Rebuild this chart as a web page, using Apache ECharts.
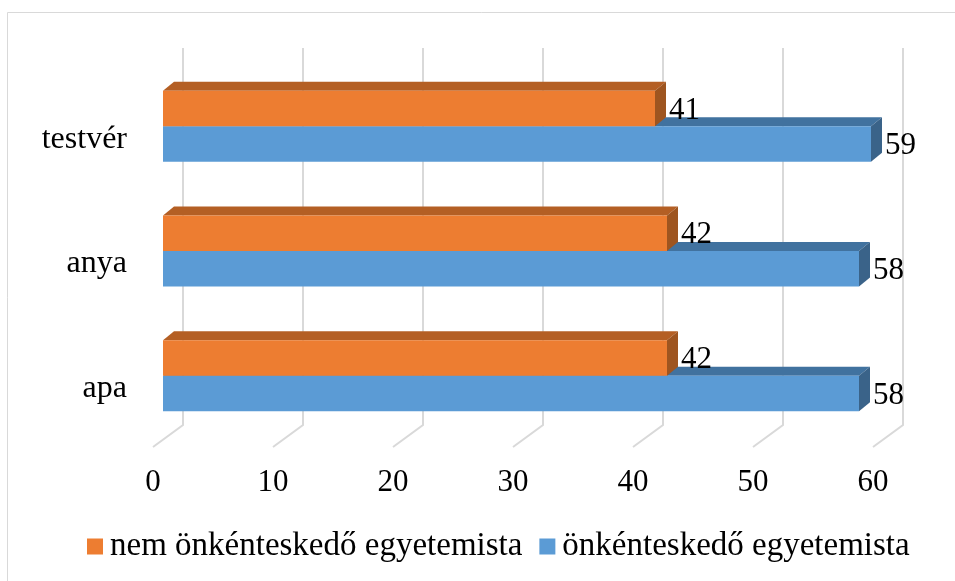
<!DOCTYPE html>
<html>
<head>
<meta charset="utf-8">
<script src="https://cdn.jsdelivr.net/npm/echarts@6/dist/echarts.min.js"></script>
<style>
  html, body { margin: 0; padding: 0; background: #fff; }
  #main { width: 955px; height: 581px; }
</style>
</head>
<body>
<div id="main"></div>
<script>
var categories = ['apa', 'anya', 'testvér'];
var nemOnkentes = [42, 42, 41];
var onkentes = [58, 58, 59];
var tickValues = [0, 10, 20, 30, 40, 50, 60];
var seriesNames = ['nem önkénteskedő egyetemista', 'önkénteskedő egyetemista'];

var FONT = '"Liberation Serif", "Times New Roman", serif';
var DX = 11, DY = -9; // bar depth

function barRenderer(upper, colors) {
    return function (params, api) {
        var cat = api.value(0);
        var val = api.value(1);
        var p0 = api.coord([0, cat]);
        var p1 = api.coord([val, cat]);
        var band = api.size([0, 1])[1];
        var h = band * 0.285;
        var x0 = p0[0], xe = p1[0];
        var y0 = upper ? p0[1] - h : p0[1];
        var y1 = y0 + h;
        return {
            type: 'group',
            children: [
                {
                    type: 'polygon',
                    shape: { points: [[x0, y0], [xe, y0], [xe + DX, y0 + DY], [x0 + DX, y0 + DY]] },
                    style: { fill: colors.top }
                },
                {
                    type: 'polygon',
                    shape: { points: [[xe, y0], [xe + DX, y0 + DY], [xe + DX, y1 + DY], [xe, y1]] },
                    style: { fill: colors.side }
                },
                {
                    type: 'rect',
                    shape: { x: x0, y: y0, width: xe - x0, height: h },
                    style: { fill: colors.front }
                },
                {
                    type: 'text',
                    style: {
                        text: String(val),
                        x: xe + 14,
                        y: y0 + h / 2 + 2,
                        verticalAlign: 'middle',
                        fill: '#000',
                        font: '31px ' + FONT
                    }
                }
            ]
        };
    };
}

function floorRenderer(params, api) {
    var v = api.value(0);
    var top = api.coord([v, 0]);
    var bottom = api.coord([v, 1]);
    return {
        type: 'polyline',
        shape: { points: [[top[0], top[1]], [bottom[0], bottom[1]], [bottom[0] - 30, bottom[1] + 22]] },
        style: { stroke: '#d9d9d9', lineWidth: 2, fill: null }
    };
}

var myChart = echarts.init(document.getElementById('main'));
var option = {
    backgroundColor: '#fff',
    animation: false,
    graphic: [{
        type: 'rect',
        shape: { x: 7.5, y: 12.5, width: 1000, height: 700 },
        style: { fill: null, stroke: '#d9d9d9', lineWidth: 1 },
        silent: true
    }],
    legend: {
        data: seriesNames,
        left: 87,
        top: 530,
        padding: 0,
        icon: 'rect',
        itemWidth: 16,
        itemHeight: 16,
        itemGap: 17,
        textStyle: { fontFamily: FONT, fontSize: 33, color: '#000', padding: [0, 0, 0, 2] }
    },
    grid: [
        { left: 163, width: 720, top: 64, height: 374 },   // bars
        { left: 183, width: 720, top: 48, height: 377 },   // back wall gridlines
        { left: 153, width: 720, top: 400, height: 47 },   // tick labels on front floor edge
        { left: 163, width: 720, top: 77, height: 374 }    // category labels
    ],
    xAxis: [
        { gridIndex: 0, type: 'value', min: 0, max: 60, interval: 10, show: false },
        { gridIndex: 1, type: 'value', min: 0, max: 60, interval: 10,
          axisLine: { show: false }, axisTick: { show: false }, axisLabel: { show: false },
          splitLine: { show: false } },
        { gridIndex: 2, type: 'value', min: 0, max: 60, interval: 10,
          axisLine: { show: false }, axisTick: { show: false }, splitLine: { show: false },
          axisLabel: { margin: 20, fontFamily: FONT, fontSize: 31, color: '#000' } },
        { gridIndex: 3, type: 'value', min: 0, max: 60, show: false }
    ],
    yAxis: [
        { gridIndex: 0, type: 'category', data: categories, show: false },
        { gridIndex: 1, type: 'value', min: 0, max: 1, inverse: true, show: false },
        { gridIndex: 2, type: 'value', show: false },
        { gridIndex: 3, type: 'category', data: categories,
          axisLine: { show: false }, axisTick: { show: false },
          axisLabel: { margin: 36, fontFamily: FONT, fontSize: 32, color: '#000' } }
    ],
    series: [
        {
            type: 'custom',
            xAxisIndex: 1, yAxisIndex: 1,
            silent: true,
            renderItem: floorRenderer,
            data: tickValues.map(function (v) { return [v]; }),
            z: 1
        },
        {
            name: seriesNames[1],
            type: 'custom',
            xAxisIndex: 0, yAxisIndex: 0,
            itemStyle: { color: '#5B9BD5' },
            renderItem: barRenderer(false, { front: '#5B9BD5', top: '#41729F', side: '#3A6389' }),
            data: onkentes.map(function (v, i) { return [i, v]; }),
            z: 2
        },
        {
            name: seriesNames[0],
            type: 'custom',
            xAxisIndex: 0, yAxisIndex: 0,
            itemStyle: { color: '#ED7D31' },
            renderItem: barRenderer(true, { front: '#ED7D31', top: '#B45F24', side: '#9E5520' }),
            data: nemOnkentes.map(function (v, i) { return [i, v]; }),
            z: 3
        }
    ]
};
myChart.setOption(option);
</script>
</body>
</html>
